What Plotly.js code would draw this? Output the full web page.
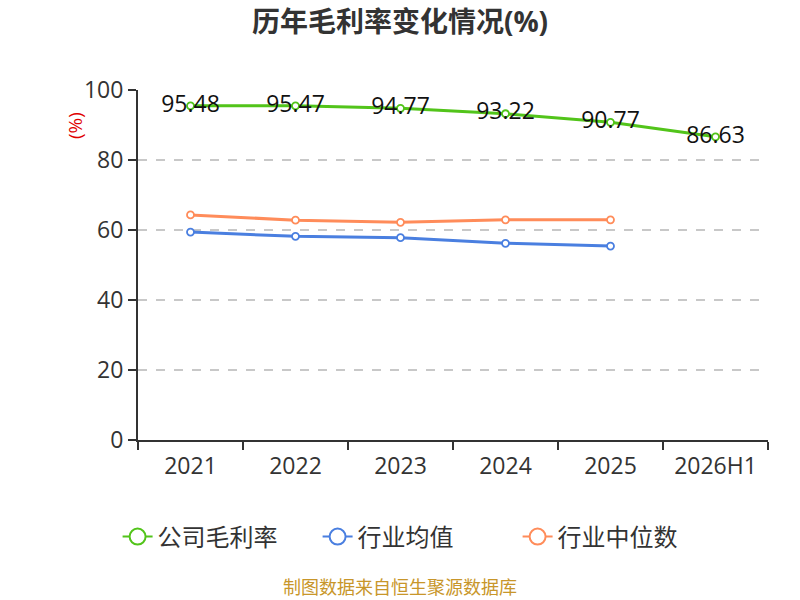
<!DOCTYPE html>
<html>
<head>
<meta charset="utf-8">
<script src="https://cdn.plot.ly/plotly-3.0.1.min.js"></script>
<style>
  html, body { margin: 0; padding: 0; background: #fff; }
  #myPlot { width: 800px; height: 600px; }
</style>
</head>
<body>
<div id="myPlot"></div>
<script>
// chart data
let years = ['2021', '2022', '2023', '2024', '2025', '2026H1'];
let companyRate = [95.48, 95.47, 94.77, 93.22, 90.77, 86.63];
let industryAvg = [59.4, 58.2, 57.8, 56.2, 55.4];
let industryMedian = [64.3, 62.8, 62.2, 62.9, 62.9];
let seriesNames = ['公司毛利率', '行业均值', '行业中位数'];

let green = '#52c41a';
let blue = '#4a7fe0';
let orange = '#ff8c5a';

let font = '"Open Sans", "Noto Sans CJK SC", sans-serif';

function lineTrace(x, y, name, color, withText) {
  let t = {
    x: x,
    y: y,
    name: name,
    type: 'scatter',
    mode: withText ? 'lines+markers+text' : 'lines+markers',
    line: {color: color, width: 3},
    marker: {size: 7, color: '#fff', line: {color: color, width: 1.8}},
    showlegend: false,
    cliponaxis: false,
    hoverinfo: 'x+y'
  };
  if (withText) {
    t.text = y.map(v => v.toFixed(2));
    t.textposition = 'middle center';
    t.textfont = {size: 23, color: '#111', family: font};
  }
  return t;
}

// legend-only entries with bigger symbols
function legendTrace(name, color) {
  return {
    x: [null], y: [null], name: name, type: 'scatter', mode: 'lines+markers',
    line: {color: color, width: 2},
    marker: {size: 16, color: '#fff', line: {color: color, width: 2}},
    showlegend: true, hoverinfo: 'skip'
  };
}

let data1 = [
  lineTrace(years.slice(0, industryMedian.length), industryMedian, seriesNames[2], orange, false),
  lineTrace(years.slice(0, industryAvg.length), industryAvg, seriesNames[1], blue, false),
  lineTrace(years, companyRate, seriesNames[0], green, true),
  legendTrace(seriesNames[0], green),
  legendTrace(seriesNames[1], blue),
  legendTrace(seriesNames[2], orange)
];

let layout = {
  width: 800,
  height: 600,
  margin: {l: 138, r: 32, t: 90, b: 160},
  paper_bgcolor: '#fff',
  plot_bgcolor: '#fff',
  font: {family: font, color: '#333'},
  title: {
    text: '<b>历年毛利率变化情况(%)</b>',
    font: {size: 28, color: '#333', family: font},
    x: 0.5, xanchor: 'center', y: 0.963, yanchor: 'middle'
  },
  xaxis: {
    type: 'category',
    categoryorder: 'array',
    categoryarray: years,
    range: [-0.5, years.length - 0.5],
    tickson: 'boundaries',
    ticks: 'outside',
    ticklen: 8,
    tickwidth: 2,
    tickcolor: '#333',
    ticklabelstandoff: 4,
    showline: true,
    linecolor: '#333',
    linewidth: 2,
    showgrid: false,
    zeroline: false,
    tickfont: {size: 23, color: '#333'},
    fixedrange: true
  },
  yaxis: {
    range: [0, 100],
    tickvals: [0, 20, 40, 60, 80, 100],
    ticks: 'outside',
    ticklen: 8,
    tickwidth: 2,
    tickcolor: '#333',
    showline: true,
    linecolor: '#333',
    linewidth: 2,
    showgrid: true,
    gridcolor: '#c8c8c8',
    griddash: 'dash',
    gridwidth: 1.2,
    zeroline: false,
    tickfont: {size: 23, color: '#333'},
    fixedrange: true
  },
  legend: {
    orientation: 'h',
    xref: 'container',
    x: 0.522, xanchor: 'center',
    yref: 'container',
    y: 0.105, yanchor: 'middle',
    font: {size: 24, color: '#333'},
    entrywidth: 155,
    traceorder: 'normal'
  },
  annotations: [
    {
      text: '(%)', xref: 'paper', yref: 'paper', x: -0.1, y: 0.897,
      xanchor: 'center', yanchor: 'middle', textangle: -90, showarrow: false,
      font: {size: 19, color: '#e00000'}
    },
    {
      text: '制图数据来自恒生聚源数据库', xref: 'paper', yref: 'paper',
      x: 0.5 - 53 / 630, y: -0.42, xanchor: 'center', yanchor: 'middle', showarrow: false,
      font: {size: 18, color: '#c8962a'}
    }
  ]
};

Plotly.newPlot('myPlot', data1, layout, {displayModeBar: false, staticPlot: true});
</script>
</body>
</html>
